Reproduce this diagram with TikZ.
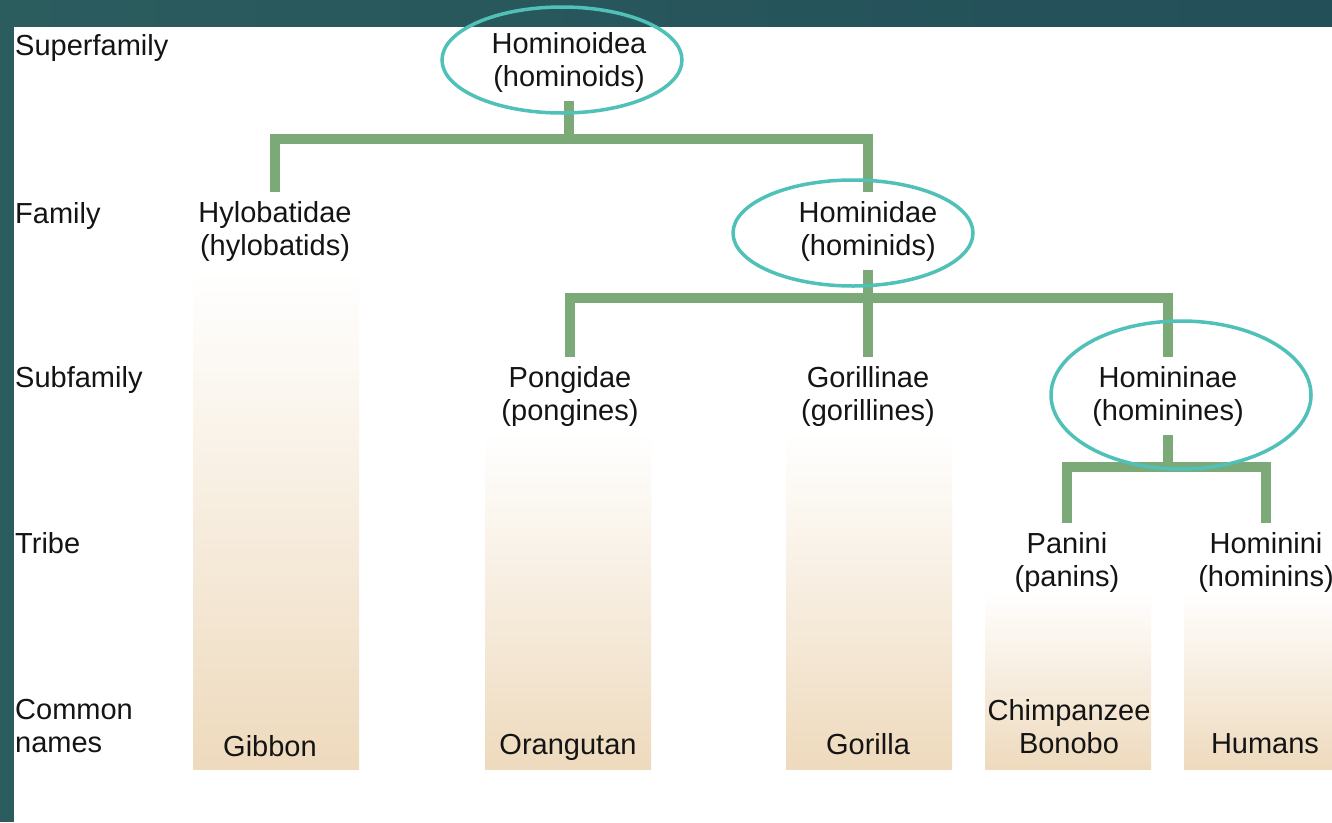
\documentclass[tikz,border=0pt]{standalone}
\usepackage{fontspec}
\setmainfont{Liberation Sans}
\definecolor{bgL}{HTML}{2B5C5E}
\definecolor{bgR}{HTML}{234F59}
\definecolor{branchc}{HTML}{7BA978}
\definecolor{ringc}{HTML}{4FC1B9}
\definecolor{tanc}{HTML}{EEDABD}
\tikzset{
  lbl/.style={font=\fontsize{29}{33}\selectfont, text=black!92},
  taxon/.style={lbl, align=center, inner sep=9pt},
  rank/.style={lbl, align=left, anchor=west, inner sep=0pt},
  common/.style={lbl, align=center, inner sep=0pt},
  branchline/.style={draw=branchc, line width=10pt, line join=miter, line cap=butt},
  ringline/.style={draw=ringc, line width=3.5pt},
  barfill/.style={top color=white, bottom color=tanc, draw=none},
}
\begin{document}
\begin{tikzpicture}[x=1pt,y=-1pt]
\useasboundingbox (0,0) rectangle (1332,822);
\clip (0,0) rectangle (1332,822);
% background frame
\fill[white] (0,0) rectangle (1332,822);
\shade[left color=bgL, right color=bgR] (0,0) rectangle (1332,26);
\fill[bgL] (0,0) rectangle (14,822);

% bars
\shade[barfill] (193,270) rectangle (359,769);
\shade[barfill] (485,432) rectangle (651,769);
\shade[barfill] (786,432) rectangle (952,769);
\shade[barfill] (985,592) rectangle (1151,769);
\shade[barfill] (1184,592) rectangle (1350,769);

% rank labels
\node[rank] (rsup) at (15,48) {Superfamily};
\node[rank] (rfam) at (15,216) {Family};
\node[rank] (rsub) at (15,380) {Subfamily};
\node[rank] (rtri) at (15,543) {Tribe};
\node[rank] (rcom) at (15,726) {Common\\names};

% taxa
\node[taxon] (sup)  at (569,62)  {Hominoidea\\(hominoids)};
\node[taxon] (hylo) at (275,231) {Hylobatidae\\(hylobatids)};
\node[taxon] (hdae) at (868,231) {Hominidae\\(hominids)};
\node[taxon] (pong) at (570,396) {Pongidae\\(pongines)};
\node[taxon] (gor)  at (868,396) {Gorillinae\\(gorillines)};
\node[taxon] (hnae) at (1168,396) {Homininae\\(hominines)};
\node[taxon] (pan)  at (1067,562) {Panini\\(panins)};
\node[taxon] (hini) at (1266,562) {Hominini\\(hominins)};

% common names
\node[common] (gib) at (270,746) {Gibbon};
\node[common] (ora) at (568,747) {Orangutan};
\node[common] (gla) at (868,744) {Gorilla};
\node[common] (chi) at (1069,727) {Chimpanzee\\Bonobo};
\node[common] (hum) at (1265,744) {Humans};

% branch levels
\coordinate (lv1) at (0,139);
\coordinate (lv2) at (0,298);
\coordinate (lv3) at (0,467);

\draw[branchline] (hylo.north) -- (hylo.north |- lv1) -- (hdae.north |- lv1) -- (hdae.north);
\draw[branchline] (sup.south) -- (sup.south |- lv1);
\draw[branchline] (pong.north) -- (pong.north |- lv2) -- (hnae.north |- lv2) -- (hnae.north);
\draw[branchline] (hdae.south) -- (gor.north);
\draw[branchline] (pan.north) -- (pan.north |- lv3) -- (hini.north |- lv3) -- (hini.north);
\draw[branchline] (hnae.south) -- (hnae.south |- lv3);

% rings
\draw[ringline] (562,60) ellipse [x radius=120pt, y radius=53pt];
\draw[ringline] (853,233) ellipse [x radius=120pt, y radius=53pt];
\draw[ringline] (1181,395) ellipse [x radius=130pt, y radius=74pt];
\end{tikzpicture}
\end{document}
